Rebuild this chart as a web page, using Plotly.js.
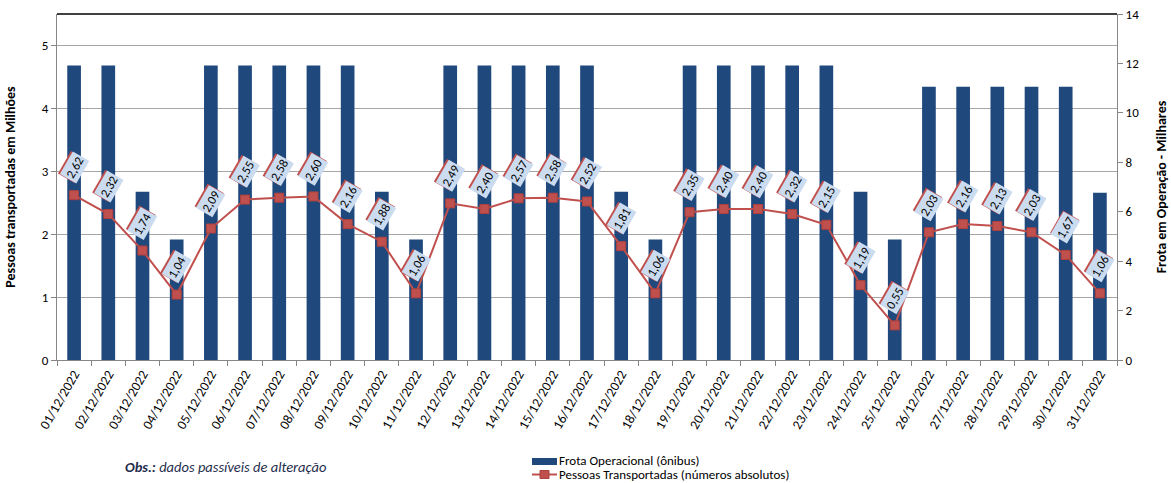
<!DOCTYPE html>
<html>
<head>
<meta charset="utf-8">
<script src="https://cdn.plot.ly/plotly-3.0.1.min.js"></script>
<style>html,body{margin:0;padding:0;background:#fff}#chart{width:1171px;height:483px}</style>
</head>
<body>
<div id="chart"></div>
<script>
var days = ["01/12/2022","02/12/2022","03/12/2022","04/12/2022","05/12/2022","06/12/2022","07/12/2022","08/12/2022","09/12/2022","10/12/2022","11/12/2022","12/12/2022","13/12/2022","14/12/2022","15/12/2022","16/12/2022","17/12/2022","18/12/2022","19/12/2022","20/12/2022","21/12/2022","22/12/2022","23/12/2022","24/12/2022","25/12/2022","26/12/2022","27/12/2022","28/12/2022","29/12/2022","30/12/2022","31/12/2022"];
var frota = [11.92,11.92,6.81,4.88,11.92,11.92,11.92,11.92,11.92,6.81,4.88,11.92,11.92,11.92,11.92,11.92,6.81,4.88,11.92,11.92,11.92,11.92,11.92,6.81,4.88,11.06,11.06,11.06,11.06,11.06,6.77];
var pessoas = [2.62,2.32,1.74,1.04,2.09,2.55,2.58,2.60,2.16,1.88,1.06,2.49,2.40,2.57,2.58,2.52,1.81,1.06,2.35,2.40,2.40,2.32,2.15,1.19,0.55,2.03,2.16,2.13,2.03,1.67,1.06];
var leftTicks = [0,1,2,3,4,5];
var rightTicks = [0,2,4,6,8,10,12,14];
var seriesNames = ["Frota Operacional (ônibus)", "Pessoas Transportadas (números absolutos)"];

var FONT = "Carlito, 'Liberation Sans Narrow', 'Liberation Sans', Arial, sans-serif";
var BLUE = "#1f497d", RED = "#c0504d";

var traces = [
  {type:"bar", name:seriesNames[0], x:days, y:frota, yaxis:"y",
   marker:{color:BLUE, line:{width:0}}, hoverinfo:"skip"},
  {type:"scatter", mode:"lines+markers", name:seriesNames[1],
   x:days, y:pessoas, yaxis:"y2",
   line:{color:RED, width:2}, marker:{symbol:"square", size:9, color:RED, line:{color:"#b0403d", width:1}},
   hoverinfo:"skip"}
];

function fmt(v){ return v.toFixed(2).replace(".", ","); }

// pixel helpers for the legend / footnote (plot area: x 57..1117, y 14..360)
function px(x){ return (x-57)/1060; }
function py(y){ return (360-y)/346; }

var annotations = [];
days.forEach(function(d, i){
  annotations.push({x:d, y:pessoas[i], xref:"x", yref:"y2", text:fmt(pessoas[i]), showarrow:false,
    textangle:-60, yshift:28.4, xshift:-1.6, bgcolor:RED, borderpad:1.5,
    font:{family:FONT, size:12.5, color:RED}});
});
days.forEach(function(d, i){
  annotations.push({x:d, y:pessoas[i], xref:"x", yref:"y2", text:fmt(pessoas[i]), showarrow:false,
    textangle:-60, yshift:27.5, xshift:0, bgcolor:"#cbdcf0", borderpad:1.5,
    font:{family:FONT, size:12.5, color:"#000"}});
});
annotations.push({xref:"paper", yref:"paper", x:px(123), y:py(467), xanchor:"left", yanchor:"middle",
  text:"<b><i>Obs.:</i></b><i> dados passíveis de alteração</i>", showarrow:false,
  font:{family:FONT, size:14.5, color:"#1f2d4d"}});
annotations.push({xref:"paper", yref:"paper", x:px(558), y:py(461), xanchor:"left", yanchor:"middle",
  text:seriesNames[0], showarrow:false, borderpad:0, font:{family:FONT, size:13, color:"#000"}});
annotations.push({xref:"paper", yref:"paper", x:px(558), y:py(474.5), xanchor:"left", yanchor:"middle",
  text:seriesNames[1], showarrow:false, borderpad:0, font:{family:FONT, size:13, color:"#000"}});

var shapes = [
  {type:"line", xref:"paper", yref:"paper", x0:0, x1:1, y0:1, y1:1, line:{color:"#000", width:1.3}},
  {type:"rect", xref:"paper", yref:"paper", x0:px(532), x1:px(557), y0:py(465), y1:py(458), fillcolor:BLUE, line:{width:0}},
  {type:"line", xref:"paper", yref:"paper", x0:px(532), x1:px(557), y0:py(474.5), y1:py(474.5), line:{color:RED, width:2}},
  {type:"rect", xref:"paper", yref:"paper", x0:px(540), x1:px(549), y0:py(478.5), y1:py(470.5), fillcolor:RED, line:{color:"#b0403d", width:1}}
];

var layout = {
  width:1171, height:483,
  margin:{l:57, r:54, t:14, b:123},
  paper_bgcolor:"#fff", plot_bgcolor:"#fff",
  separators:",.",
  font:{family:FONT, size:12, color:"#404040"},
  bargap:0.6,
  showlegend:false,
  xaxis:{type:"category", range:[-0.5, 30.5], automargin:false, tickangle:-60, ticks:"outside", tickson:"boundaries", ticklen:5, tickcolor:"#868686",
    showline:true, linecolor:"#868686", linewidth:1, showgrid:false,
    tickfont:{family:FONT, size:13.5, color:"#000"}, mirror:false},
  yaxis:{range:[0,14], automargin:false, tickvals:rightTicks, side:"right", ticks:"outside", ticklen:5, tickcolor:"#868686",
    showline:true, linecolor:"#868686", showgrid:false, zeroline:false,
    tickfont:{family:FONT, size:13, color:"#000"},
    title:{text:"<b>Frota em Operação - Milhares</b>", font:{family:FONT, size:14, color:"#000"}, standoff:18}},
  yaxis2:{range:[0,5.5], automargin:false, tickvals:leftTicks, overlaying:"y", side:"left", ticks:"outside", ticklen:5, tickcolor:"#868686",
    showline:true, linecolor:"#868686", showgrid:true, gridcolor:"#a6a6a6", gridwidth:1, zeroline:false,
    tickfont:{family:FONT, size:13, color:"#000"},
    title:{text:"<b>Pessoas transportadas em Milhões</b>", font:{family:FONT, size:14, color:"#000"}, standoff:22}},
  shapes:shapes,
  annotations:annotations
};

Plotly.newPlot("chart", traces, layout, {staticPlot:true, displayModeBar:false});
</script>
</body>
</html>
